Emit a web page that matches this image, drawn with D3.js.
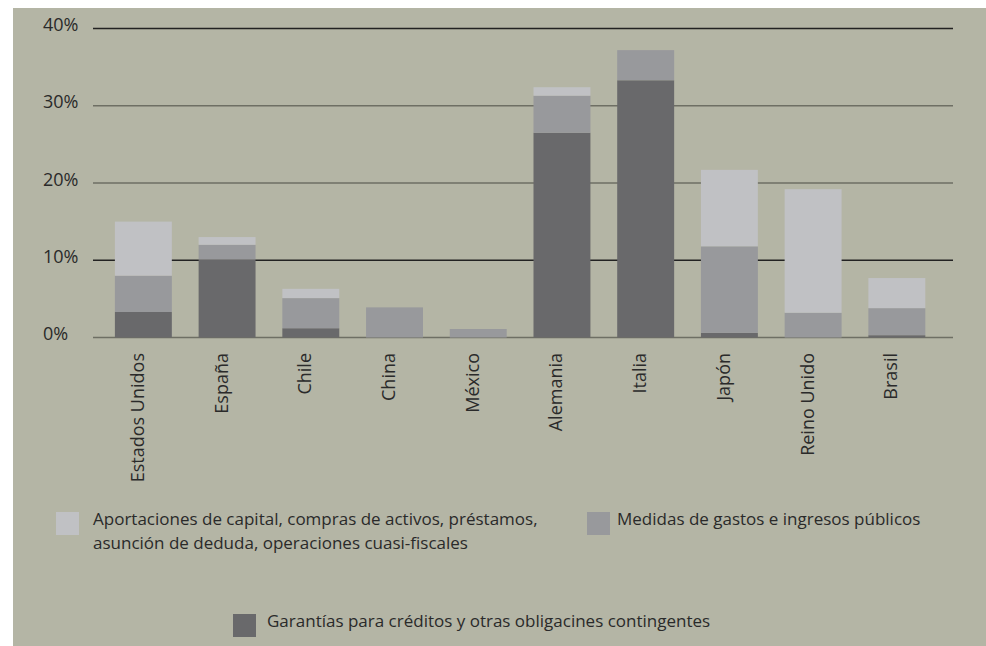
<!DOCTYPE html>
<html>
<head>
<meta charset="utf-8">
<script src="https://cdn.jsdelivr.net/npm/d3@7"></script>
<style>
  html, body { margin: 0; padding: 0; background: #fff; }
  svg { display: block; }
</style>
</head>
<body>
<div id="chart"></div>
<script>
// ---- data (% of GDP) ----
const countries = ["Estados Unidos", "España", "Chile", "China", "México",
                   "Alemania", "Italia", "Japón", "Reino Unido", "Brasil"];
const garantias   = [3.3, 10.1, 1.2, 0.0, 0.0, 26.5, 33.3, 0.6, 0.0, 0.3];
const medidas     = [4.7, 1.9, 3.9, 3.9, 1.1, 4.8, 3.9, 11.2, 3.2, 3.5];
const aportaciones = [7.0, 1.0, 1.2, 0.0, 0.0, 1.1, 0.0, 9.9, 16.0, 3.9];
const yTicks = [0, 10, 20, 30, 40];
const seriesKeys = ["garantias", "medidas", "aportaciones"];
const seriesColors = { garantias: "#69696b", medidas: "#98999c", aportaciones: "#c0c1c4" };

const W = 986, H = 646;
const svg = d3.select("#chart").append("svg").attr("width", W).attr("height", H);

// background panel
svg.append("rect").attr("x", 13).attr("y", 8).attr("width", W - 13).attr("height", H - 8)
  .attr("fill", "#b4b5a5");

const x = d3.scaleBand().domain(countries).range([101.5, 938.7])
  .paddingInner(0.32).paddingOuter(0.16);
const y = d3.scaleLinear().domain([0, 40]).range([337.5, 28.5]);

// gridlines
svg.append("g").selectAll("line").data(yTicks).join("line")
  .attr("x1", 93).attr("x2", 953)
  .attr("y1", d => y(d)).attr("y2", d => y(d))
  .attr("stroke", d => (d === 40 || d === 10) ? "#222" : "#6e6f64")
  .attr("stroke-width", 1.3);

// y labels (left aligned)
svg.append("g").selectAll("text").data(yTicks).join("text")
  .attr("x", 43).attr("y", d => y(d) + 2.5)
  .attr("font-family", "'Open Sans', sans-serif").attr("font-size", 18)
  .attr("fill", "#2a2a2a")
  .text(d => d + "%");

// stacked bars
const table = countries.map((c, i) => ({
  country: c, garantias: garantias[i], medidas: medidas[i], aportaciones: aportaciones[i]
}));
const stacked = d3.stack().keys(seriesKeys)(table);

svg.append("g").selectAll("g").data(stacked).join("g")
  .attr("fill", s => seriesColors[s.key])
  .selectAll("rect").data(s => s).join("rect")
  .attr("x", d => x(d.data.country))
  .attr("width", x.bandwidth())
  .attr("y", d => y(d[1]))
  .attr("height", d => y(d[0]) - y(d[1]));

// x labels, rotated
svg.append("g").selectAll("text").data(countries).join("text")
  .attr("transform", d => `translate(${x(d) + x.bandwidth() / 2 + 0.5},353) rotate(-90)`)
  .attr("text-anchor", "end")
  .attr("font-family", "'Open Sans', sans-serif").attr("font-size", 18)
  .attr("fill", "#2a2a2a")
  .text(d => d);

// legend
const legendItems = [
  { key: "aportaciones", x: 56, y: 512, tx: 37,
    lines: ["Aportaciones de capital, compras de activos, préstamos,",
            "asunción de deduda, operaciones cuasi-fiscales"] },
  { key: "medidas", x: 587, y: 512, tx: 30, lines: ["Medidas de gastos e ingresos públicos"] },
  { key: "garantias", x: 233, y: 614, tx: 34, lines: ["Garantías para créditos y otras obligacines contingentes"] }
];
const lg = svg.append("g").selectAll("g").data(legendItems).join("g")
  .attr("transform", d => `translate(${d.x},${d.y})`);
lg.append("rect").attr("width", 23).attr("height", 23)
  .attr("fill", d => seriesColors[d.key]);
lg.each(function(d) {
  const t = d3.select(this).append("text")
    .attr("font-family", "'Open Sans', sans-serif").attr("font-size", 17)
    .attr("fill", "#2a2a2a");
  d.lines.forEach((l, i) => {
    t.append("tspan").attr("x", d.tx).attr("y", 13 + i * 24).text(l);
  });
});
</script>
</body>
</html>
